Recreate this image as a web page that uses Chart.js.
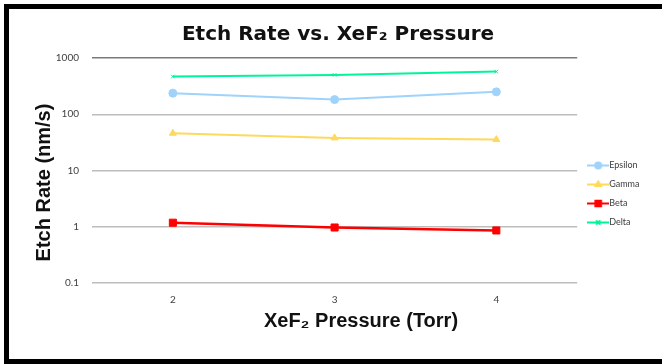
<!DOCTYPE html>
<html>
<head>
<meta charset="utf-8">
<script src="https://cdn.jsdelivr.net/npm/chart.js@4/dist/chart.umd.min.js"></script>
<style>
  html, body { margin: 0; padding: 0; background: #fff; overflow: hidden; }
  #wrap { position: relative; width: 662px; height: 364px; }
  #frame {
    position: absolute; left: 4px; top: 4px; width: 700px; height: 360px;
    box-sizing: border-box; border: 5px solid #000; pointer-events: none;
  }
  canvas { position: absolute; left: 0; top: 0; }
</style>
</head>
<body>
<div id="wrap">
  <canvas id="chart" width="662" height="364"></canvas>
  <div id="frame"></div>
</div>
<script>
// XeF2 pressure settings (Torr)
const pressures = ['2', '3', '4'];
// etch rates in nm/s per material
const epsilon = [237, 182, 250];
const gamma = [46, 38, 35.5];
const beta = [1.18, 0.97, 0.86];
const delta = [468, 500, 573];
// decade ticks for the log axis
const rateTicks = [0.1, 1, 10, 100, 1000];
const rateTickLabels = ['0.1', '1', '10', '100', '1000'];

const chartTitle = 'Etch Rate vs. XeF\u2082 Pressure';
const xTitle = 'XeF\u2082 Pressure (Torr)';
const yTitle = 'Etch Rate (nm/s)';

const seriesNames = ['Epsilon', 'Gamma', 'Beta', 'Delta'];
const seriesData = [epsilon, gamma, beta, delta];
const seriesColors = ['#9fd3fb', '#ffd95c', '#ff0000', '#00f59a'];
const seriesMarkers = ['circle', 'triangle', 'rect', 'crossRot'];
const seriesRadius = [4, 4, 5, 2.5];

// small line-with-marker icon for the legend
function legendIcon(color, marker) {
  const c = document.createElement('canvas');
  c.width = 22; c.height = 9;
  const g = c.getContext('2d');
  g.strokeStyle = color; g.lineWidth = 2;
  g.beginPath(); g.moveTo(0, 4.5); g.lineTo(22, 4.5); g.stroke();
  Chart.helpers.drawPoint(g, {
    pointStyle: marker, radius: marker === 'rect' ? 4 : 3, borderWidth: 1, rotation: 0
  }, 11, 4.5);
  g.fillStyle = color;
  g.fill();
  return c;
}

// chart title and axis captions, plus a nudge of the legend block
const captions = {
  id: 'captions',
  afterLayout(chart) {
    const lg = chart.legend;
    lg.left += 4.5; lg.right += 4.5;
    lg.top -= 1; lg.bottom -= 1;
  },
  afterDraw(chart) {
    const ctx = chart.ctx;
    ctx.save();
    ctx.fillStyle = '#111';
    ctx.textAlign = 'center';
    ctx.textBaseline = 'middle';
    ctx.font = 'bold 20px "DejaVu Sans"';
    ctx.fillText(chartTitle, 338, 35);
    ctx.font = 'bold 20px "Liberation Sans"';
    ctx.fillText(xTitle, 361, 321);
    ctx.translate(44, 182.5);
    ctx.rotate(-Math.PI / 2);
    ctx.fillText(yTitle, 0, 0);
    ctx.restore();
  }
};

const datasets = seriesNames.map((name, i) => ({
  label: name,
  data: seriesData[i],
  borderColor: seriesColors[i],
  backgroundColor: seriesColors[i],
  pointStyle: seriesMarkers[i],
  pointRadius: seriesRadius[i],
  pointBorderWidth: 1,
  borderWidth: i === 2 ? 2.5 : 2,
  tension: 0
}));

new Chart(document.getElementById('chart'), {
  type: 'line',
  data: { labels: pressures, datasets },
  plugins: [captions],
  options: {
    responsive: false,
    animation: false,
    layout: { padding: { left: 9, right: 17, top: 58, bottom: 32 } },
    plugins: {
      title: { display: false },
      legend: {
        position: 'right',
        labels: {
          usePointStyle: true,
          pointStyleWidth: 13,
          padding: 10,
          color: '#404040',
          font: { family: 'Lato', size: 9 },
          generateLabels(chart) {
            const items = Chart.defaults.plugins.legend.labels.generateLabels(chart);
            items.forEach(it => {
              const k = it.datasetIndex;
              it.pointStyle = legendIcon(seriesColors[k], seriesMarkers[k]);
            });
            return items;
          }
        }
      },
      tooltip: { enabled: false }
    },
    scales: {
      x: {
        type: 'category',
        offset: true,
        grid: { display: false, drawTicks: false },
        border: { display: false },
        ticks: { padding: 11, color: '#404040', font: { family: 'Lato', size: 10 } },
        afterFit(scale) { scale.height = 49; }
      },
      y: {
        type: 'logarithmic',
        min: 0.1,
        max: 1000,
        grid: {
          drawTicks: false,
          lineWidth: 1.5,
          color: ctx => (ctx.tick && ctx.tick.value === 1000) ? '#7a7a7a' : '#bdbdbd'
        },
        border: { display: false },
        afterBuildTicks(scale) { scale.ticks = rateTicks.map(v => ({ value: v })); },
        ticks: {
          padding: 13,
          color: '#404040',
          font: { family: 'Lato', size: 10 },
          callback: (v) => rateTickLabels[rateTicks.indexOf(v)] ?? ''
        },
        afterFit(scale) { scale.width = 92 - 9; }
      }
    }
  }
});
</script>
</body>
</html>
